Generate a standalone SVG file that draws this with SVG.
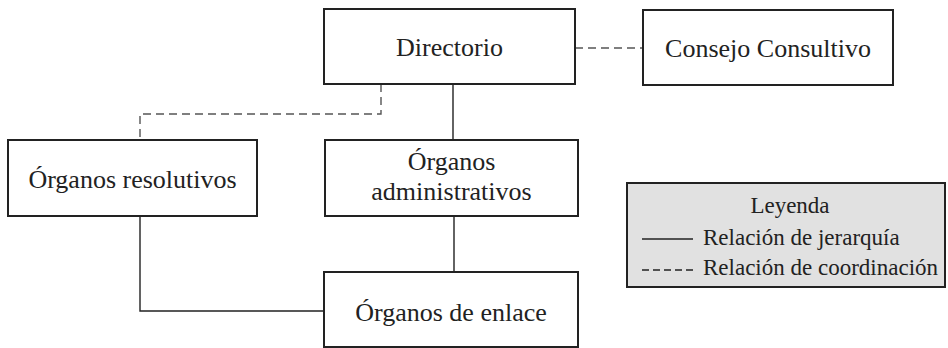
<svg xmlns="http://www.w3.org/2000/svg" width="948" height="348" viewBox="0 0 948 348">
<style>
.box{fill:#fff;stroke:#222;stroke-width:2}
.leg{fill:#e1e1e1;stroke:#222;stroke-width:2}
.solid{fill:none;stroke:#222;stroke-width:1.4}
.dash{fill:none;stroke:#555;stroke-width:1.4;stroke-dasharray:8 5}
</style>
<rect width="948" height="348" fill="#fff"/>
<g id="connectors">
<path class="dash" d="M575 48H643"/>
<path class="dash" d="M381 84V114H140V140"/>
<path class="solid" d="M453 84V140"/>
<path class="solid" d="M454 216V272"/>
<path class="solid" d="M140 216V311H324"/>
</g>
<g font-family="'Liberation Serif', serif" font-size="26" fill="#222" text-anchor="middle">
<g id="directorio">
<rect class="box" x="324" y="9" width="251" height="75"/>
<text x="449.5" y="56">Directorio</text>
</g>
<g id="consejo">
<rect class="box" x="643" y="10" width="250" height="75"/>
<text x="768" y="57">Consejo Consultivo</text>
</g>
<g id="resolutivos">
<rect class="box" x="8" y="140" width="249" height="76"/>
<text x="132.5" y="188">&#211;rganos resolutivos</text>
</g>
<g id="administrativos">
<rect class="box" x="325" y="140" width="253" height="76"/>
<text x="451.5" y="170">&#211;rganos</text>
<text x="451.5" y="200">administrativos</text>
</g>
<g id="enlace">
<rect class="box" x="324" y="272" width="254" height="75"/>
<text x="451" y="321">&#211;rganos de enlace</text>
</g>
</g>
<g id="leyenda" font-family="'Liberation Serif', serif" font-size="23" fill="#222">
<rect class="leg" x="627" y="183" width="318" height="104"/>
<text x="790" y="213" text-anchor="middle">Leyenda</text>
<path class="solid" d="M642 239H693"/>
<text x="703" y="245">Relaci&#243;n de jerarqu&#237;a</text>
<path class="solid" stroke-dasharray="7 4" d="M642 270H693"/>
<text x="703" y="275">Relaci&#243;n de coordinaci&#243;n</text>
</g>
</svg>
